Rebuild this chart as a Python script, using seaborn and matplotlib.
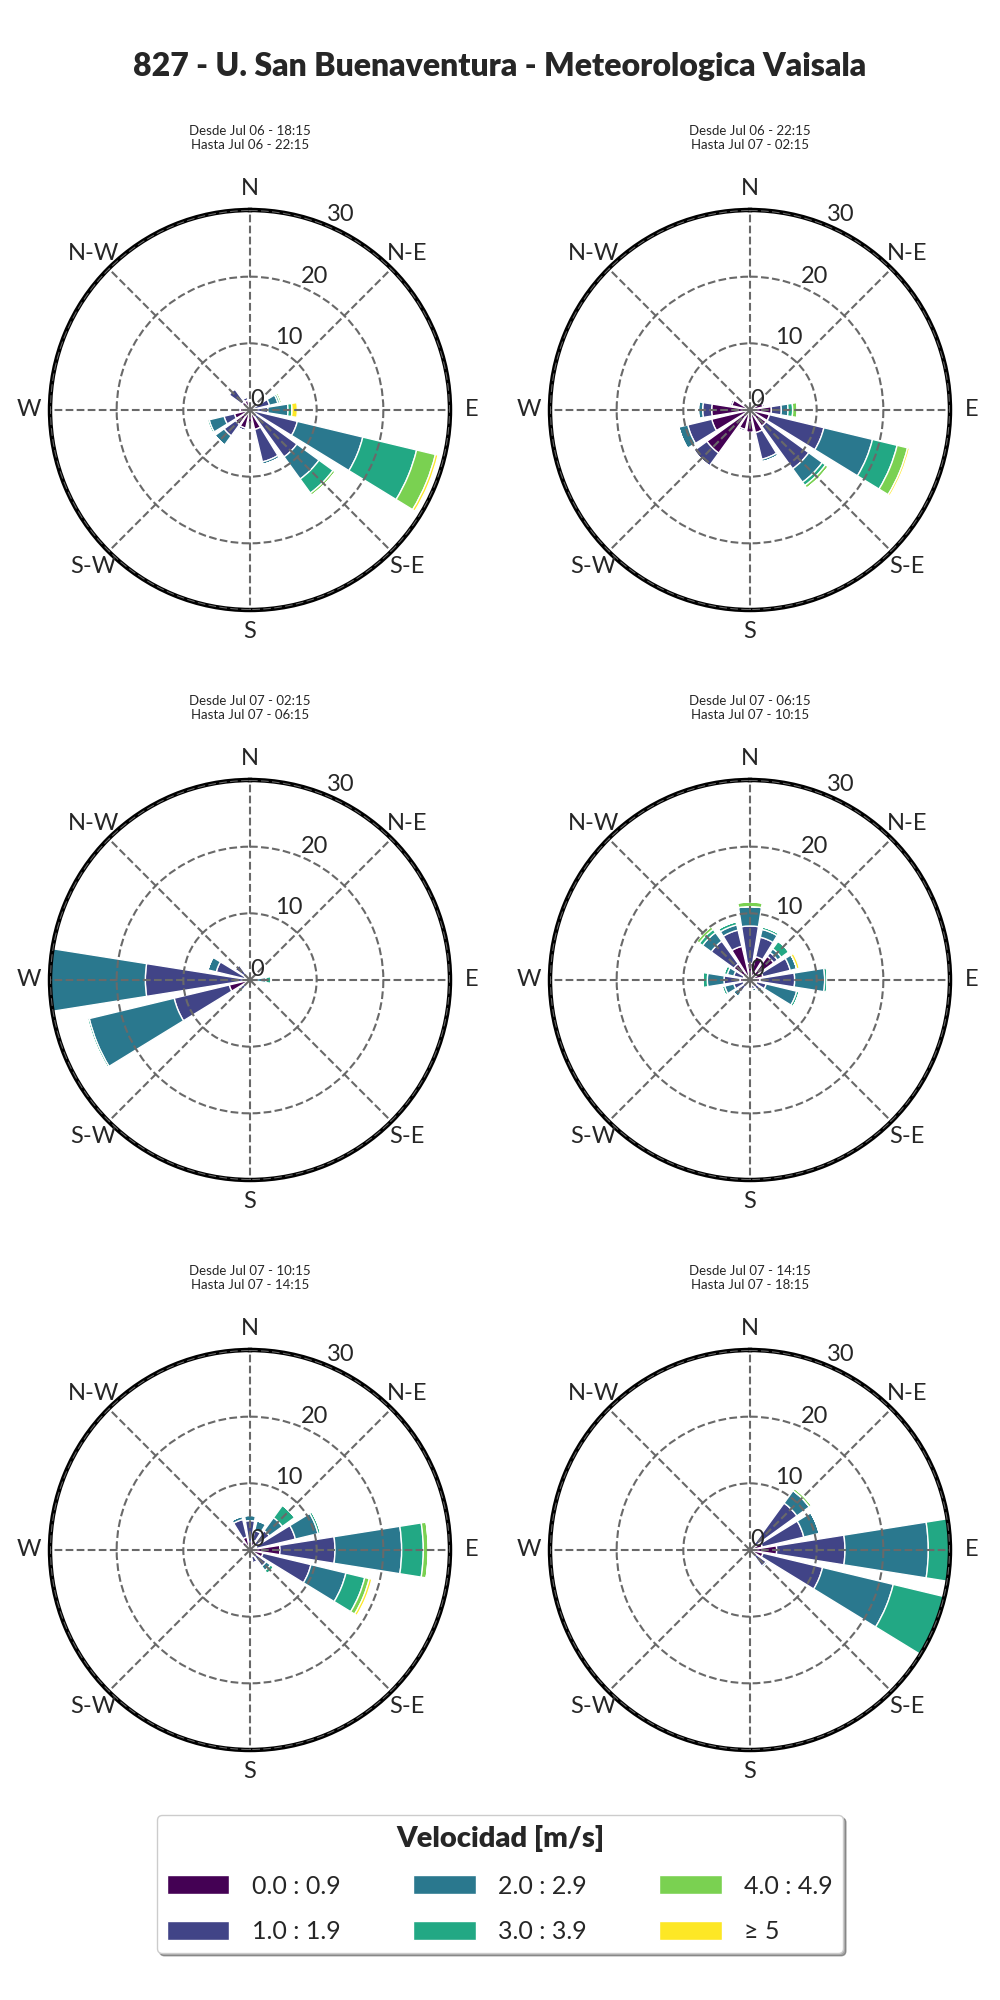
import numpy as np
import matplotlib
matplotlib.use('Agg')
import matplotlib.pyplot as plt
from matplotlib.patches import Patch
import seaborn as sns

sns.set_style('white')
plt.rcParams['font.family'] = ['Lato', 'DejaVu Sans']

station = '827 - U. San Buenaventura - Meteorologica Vaisala'
directions = np.arange(0, 360, 22.5)
compass = ['N', 'N-E', 'E', 'S-E', 'S', 'S-W', 'W', 'N-W']
speed_bins = ['0.0 : 0.9', '1.0 : 1.9', '2.0 : 2.9', '3.0 : 3.9', '4.0 : 4.9', '≥ 5']
periods = [('Jul 06 - 18:15', 'Jul 06 - 22:15'),
           ('Jul 06 - 22:15', 'Jul 07 - 02:15'),
           ('Jul 07 - 02:15', 'Jul 07 - 06:15'),
           ('Jul 07 - 06:15', 'Jul 07 - 10:15'),
           ('Jul 07 - 10:15', 'Jul 07 - 14:15'),
           ('Jul 07 - 14:15', 'Jul 07 - 18:15')]

# frecuencia (%) por direccion (N, NNE, ... NNW) y rango de velocidad
freq_1 = [[1.0, 0.3, 0, 0, 0, 0], [0.8, 0.4, 0, 0, 0, 0], [1.0, 0.5, 0, 0, 0, 0],
          [0.5, 2.5, 1.3, 0.3, 0.3, 0], [0.5, 2.2, 3.0, 0.6, 0, 0.8],
          [0.3, 7.0, 10.1, 8.3, 2.9, 0.4], [0.4, 8.3, 4.1, 2.6, 0.4, 0],
          [3.0, 5.0, 0.4, 0, 0, 0], [2.0, 0.3, 0, 0, 0, 0], [2.8, 0.4, 0, 0, 0, 0],
          [2.7, 2.1, 1.7, 0, 0, 0], [2.4, 1.6, 2.3, 0.3, 0, 0], [1.5, 0.5, 0, 0, 0, 0],
          [1.0, 0.3, 0, 0, 0, 0], [1.5, 2.4, 0, 0, 0, 0], [1.5, 0.5, 0, 0, 0, 0]]
freq_2 = [[0.5, 0, 0, 0, 0, 0], [0.5, 0, 0, 0, 0, 0], [1.0, 0, 0, 0, 0, 0],
          [2.0, 0.3, 0, 0, 0, 0], [3.2, 1.5, 1.0, 0.7, 0.7, 0],
          [3.0, 8.4, 7.5, 3.8, 1.6, 0.3], [3.0, 7.9, 2.5, 0.6, 0.5, 0],
          [3.5, 4.1, 0.4, 0, 0, 0], [3.4, 0, 0, 0, 0, 0], [3.0, 0.3, 0, 0, 0, 0],
          [8.0, 2.4, 0, 0, 0, 0], [5.9, 3.7, 1.4, 0, 0, 0], [5.75, 1.35, 0.65, 0, 0, 0],
          [2.8, 0.3, 0, 0, 0, 0], [1.0, 0, 0, 0, 0, 0], [0.5, 0, 0, 0, 0, 0]]
freq_3 = [[0.3, 0, 0, 0, 0, 0], [0.2, 0, 0, 0, 0, 0], [0.2, 0, 0, 0, 0, 0],
          [0.3, 0, 0, 0, 0, 0], [0.3, 0.5, 1.6, 0.8, 0, 0],
          [0.3, 0.2, 0, 0, 0, 0], [0.3, 0, 0, 0, 0, 0],
          [0.2, 0, 0, 0, 0, 0], [0.3, 0, 0, 0, 0, 0], [0.5, 0.3, 0, 0, 0, 0],
          [1.0, 0.8, 0.5, 0, 0, 0], [3.2, 8.5, 13.1, 0.3, 0, 0], [0.5, 15.2, 16.0, 0, 0, 0],
          [0.8, 4.4, 1.3, 0, 0, 0], [0.5, 2.3, 0, 0, 0, 0], [0.3, 0.3, 0, 0, 0, 0]]
freq_4 = [[2.5, 5.6, 2.9, 0, 0.7, 0], [3.6, 3.0, 1.2, 0.4, 0, 0], [4.4, 0.7, 0.7, 1.4, 0, 0],
          [2.0, 4.2, 1.0, 0, 0, 0.4], [1.5, 5.2, 4.5, 0.4, 0, 0],
          [1.0, 1.5, 4.7, 0.4, 0, 0], [0.8, 1.0, 0.5, 0.3, 0, 0],
          [0.8, 0.6, 0.4, 0, 0, 0], [0.5, 0.2, 0, 0, 0, 0], [0.5, 0.2, 0, 0, 0, 0],
          [0.8, 1.5, 0.8, 0, 0, 0], [1.0, 1.5, 1.4, 0.4, 0, 0], [1.5, 2.4, 2.5, 0.7, 0, 0],
          [1.0, 1.5, 1.0, 0.5, 0, 0], [3.0, 4.2, 1.6, 0.6, 0.5, 0], [5.2, 2.5, 0.8, 0.5, 0, 0]]
freq_5 = [[1.0, 3.4, 0.8, 0, 0, 0], [1.5, 1.5, 1.5, 0, 0, 0], [1.2, 2.4, 2.4, 2.3, 0, 0],
          [1.0, 6.0, 3.5, 0.4, 0, 0], [4.5, 8.25, 10.0, 3.25, 0.75, 0],
          [2.0, 7.4, 5.4, 2.9, 0.7, 0.4], [1.0, 2.0, 0.8, 0.6, 0, 0],
          [1.0, 1.0, 0, 0, 0, 0], [0.5, 0.2, 0, 0, 0, 0], [0.3, 0, 0, 0, 0, 0],
          [0.3, 0, 0, 0, 0, 0], [0.5, 0.2, 0, 0, 0, 0], [0.5, 0, 0, 0, 0, 0],
          [0.5, 0.2, 0, 0, 0, 0], [1.5, 0.3, 0, 0, 0, 0], [2.0, 2.7, 0.5, 0, 0, 0]]
freq_6 = [[0.3, 0, 0, 0, 0, 0], [0.3, 0, 0, 0, 0, 0], [1.0, 7.7, 2.3, 0, 0.4, 0],
          [1.9, 6.4, 2.4, 0, 0, 0], [4.0, 10.25, 12.5, 4.0, 0, 0],
          [2.0, 9.2, 10.9, 9.0, 0, 0], [1.0, 2.0, 0.3, 0, 0, 0],
          [0.3, 0, 0, 0, 0, 0], [0.2, 0, 0, 0, 0, 0], [0.2, 0, 0, 0, 0, 0],
          [0.2, 0, 0, 0, 0, 0], [0.2, 0, 0, 0, 0, 0], [0.2, 0, 0, 0, 0, 0],
          [0.2, 0, 0, 0, 0, 0], [0.2, 0, 0, 0, 0, 0], [0.2, 0, 0, 0, 0, 0]]
panels = [freq_1, freq_2, freq_3, freq_4, freq_5, freq_6]

colors = plt.cm.viridis(np.linspace(0, 1, len(speed_bins)))

fig = plt.figure(figsize=(10, 20), dpi=100)
fig.suptitle(station, y=0.974, fontsize=23, fontweight='heavy')

lefts = [0.05, 0.55]
bottoms = [0.695, 0.41, 0.125]

for k, freq in enumerate(panels):
    ax = fig.add_axes([lefts[k % 2], bottoms[k // 2], 0.4, 0.2], projection='polar')
    ax.set_theta_zero_location('N')
    ax.set_theta_direction(-1)
    ax.set_axisbelow(False)

    freq = np.array(freq)
    base = np.zeros(len(directions))
    for j in range(len(speed_bins)):
        ax.bar(np.deg2rad(directions), freq[:, j], width=np.deg2rad(18), bottom=base,
               color=colors[j], edgecolor='white', linewidth=1)
        base += freq[:, j]

    ax.set_ylim(0, 30)
    ax.set_rticks([0, 10, 20, 30])
    ax.set_thetagrids(np.arange(0, 360, 45), labels=compass)
    ax.tick_params(axis='both', labelsize=17)
    ax.tick_params(axis='x', pad=5)
    ax.grid(True, color='dimgray', linestyle='--', linewidth=1.5)
    ax.spines['polar'].set_linewidth(3.2)
    ax.spines['polar'].set_color('black')

    desde, hasta = periods[k]
    ax.text(0.5, 1.18, f'Desde {desde}\nHasta {hasta}', transform=ax.transAxes,
            ha='center', va='center', fontsize=9.5)

handles = [Patch(facecolor=c, edgecolor='white') for c in colors]
fig.legend(handles, speed_bins, ncol=3, loc='center', bbox_to_anchor=(0.5, 0.058),
           title='Velocidad [m/s]', fontsize=18,
           title_fontproperties={'weight': 'heavy', 'size': 21},
           shadow=True, fancybox=True, handlelength=2.5, handleheight=0.8,
           handletextpad=0.9, columnspacing=2.9, labelspacing=0.9)

fig.savefig('out.png', dpi=100)
